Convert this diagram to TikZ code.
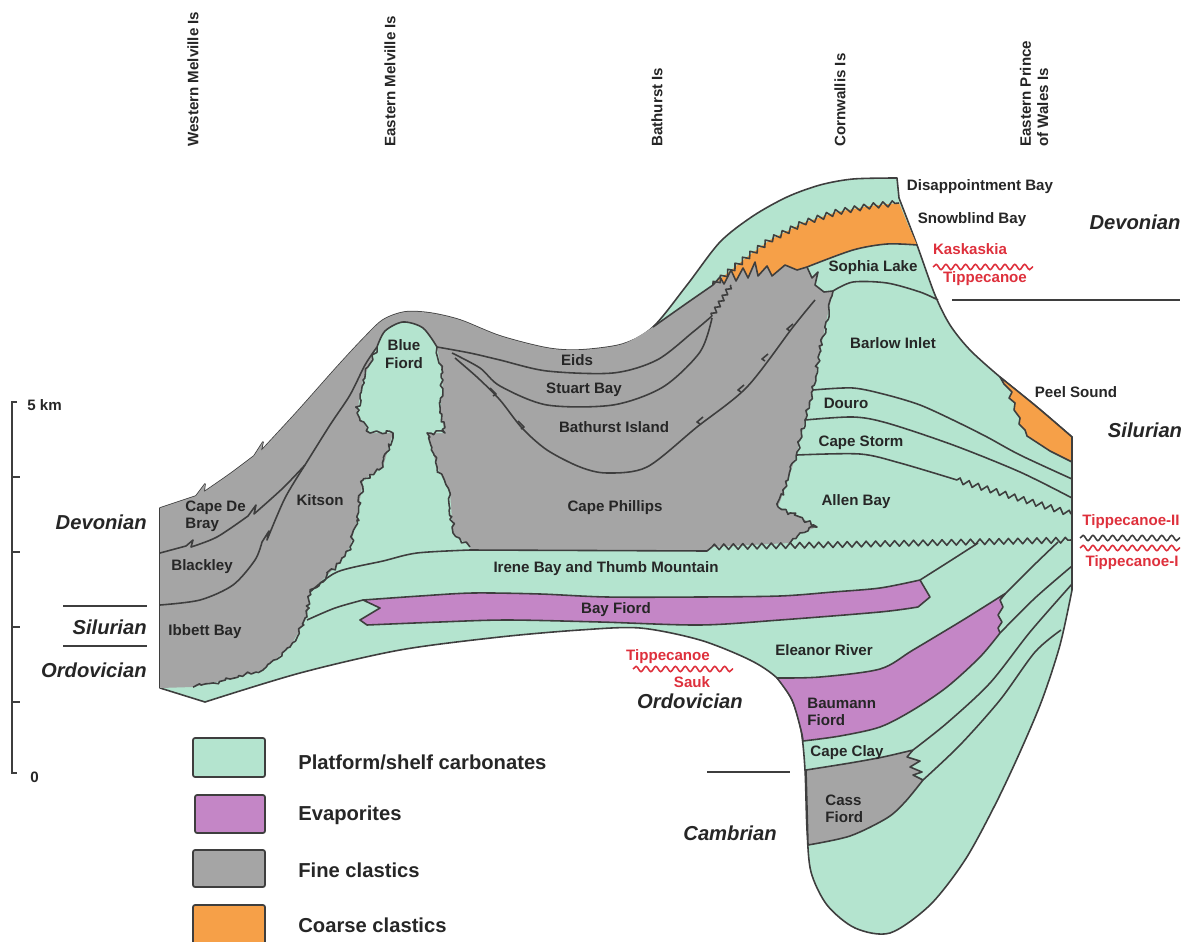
\documentclass[tikz,border=0pt]{standalone}
\usepackage{fontspec}
\setmainfont{Liberation Sans}
\usetikzlibrary{decorations.pathmorphing}
\definecolor{colShelf}{RGB}{180,228,207}
\definecolor{colEvap}{RGB}{196,134,198}
\definecolor{colFine}{RGB}{165,165,165}
\definecolor{colCoarse}{RGB}{246,160,72}
\definecolor{colEdge}{RGB}{62,62,62}
\definecolor{colSeq}{RGB}{222,48,60}
\definecolor{colInk}{RGB}{38,38,38}
\begin{document}
\begin{tikzpicture}[x=0.02cm,y=-0.02cm,
  contact/.style={draw=colEdge,line width=0.9pt,line join=round},
  serrate/.style={contact,decorate,decoration={random steps,segment length=2pt,amplitude=1.3pt}},
  unconf/.style={contact,decorate,decoration={zigzag,segment length=5.4pt,amplitude=1.6pt}},
  seqwave/.style={line width=0.9pt,decorate,decoration={snake,segment length=5.6pt,amplitude=1.5pt}},
  unitlabel/.style={font=\fontsize{8.6}{9.8}\selectfont\bfseries,text=colInk,inner sep=0pt},
  seqlabel/.style={font=\fontsize{8.6}{9.8}\selectfont\bfseries,text=colSeq,inner sep=0pt},
  eralabel/.style={font=\fontsize{11.5}{13}\selectfont\bfseries\itshape,text=colInk,inner sep=0pt},
  keytext/.style={font=\fontsize{11.5}{13}\selectfont\bfseries,text=colInk,inner sep=0pt,anchor=west},
  keybox/.style={draw=colEdge,line width=1pt,rounded corners=1.2pt},
  rule/.style={draw=colEdge,line width=0.9pt}
]
\pgfmathsetseed{11}
\useasboundingbox (0,0) rectangle (1192,942);

% ---------- whole section: carbonate platform body ----------
\filldraw[fill=colShelf,contact]
 (160,508) -- (196,496) -- (205,484) -- (204,492)
 -- plot[smooth] coordinates {(204,492) (230,474) (254,456)}
 -- (263,442) -- (261,451)
 -- plot[smooth] coordinates {(261,451) (297,412) (337,367) (363,339) (383,320) (405,312) (430,313) (460,320) (500,336) (547,348) (580,350) (623,344) (653,327) (687,285) (720,242) (753,216) (787,197) (820,185) (853,179) (897,178)}
 -- (899,198)
 -- plot[smooth] coordinates {(899,198) (917,245) (935,295) (950,325) (970,350) (1000,377) (1037,407) (1072,437)}
 -- (1072,590)
 -- plot[smooth] coordinates {(1072,590) (1060,645) (1042,700) (1020,752) (995,805) (965,860) (930,905) (890,933) (855,928) (827,905) (811,872) (807,830) (805,770) (801,730) (792,700) (777,678) (750,660) (700,640) (640,628) (580,630) (500,637) (400,650) (300,673) (205,702)}
 -- (160,688) -- cycle;

% ---------- fine clastic basin fill ----------
\fill[colFine]
 (160,688) -- (160,508) -- (196,496) -- (205,484) -- (204,492)
 -- plot[smooth] coordinates {(204,492) (230,474) (254,456)}
 -- (263,442) -- (261,451)
 -- plot[smooth] coordinates {(261,451) (297,412) (337,367) (363,339) (383,320) (405,312) (430,313) (460,320) (500,336) (547,348) (580,350) (623,344) (653,327)}
 -- plot[smooth] coordinates {(653,327) (687,303) (713,285)}
 -- (720,277) -- (724,284) -- (731,270) -- (736,281) -- (743,268) -- (748,278) -- (755,262) -- (758,276) -- (767,266) -- (772,276) -- (785,265) -- (797,270) -- (807,267)
 -- (812,278) -- (818,272) -- (815,285) -- (824,292) -- (833,291)
 -- (826,322) -- (820,352) -- (813,390) -- (805,420) -- (797,452) -- (788,480) -- (778,507)
 -- (790,513) -- (800,517) -- (817,527) -- (800,533) -- (790,543)
 -- (712,547) -- (707,551) -- (470,550)
 -- plot[smooth] coordinates {(470,550) (417,553) (383,561) (337,572) (310,592)}
 -- (307,617) -- (290,647) -- (263,670) -- (230,679) -- (193,687)
 -- cycle;

% Blue Fiord reef column
\fill[colShelf]
 plot[smooth] coordinates {(310,592) (337,572) (383,561) (417,553) (470,550)}
 -- (470,547) -- (453,533) -- (450,493) -- (437,467) -- (427,433) -- (445,433) -- (440,413) -- (443,380) -- (437,347)
 -- plot[smooth] coordinates {(437,347) (423,328) (403,322) (385,331) (377,347)}
 -- (363,380) -- (357,413) -- (370,433) -- (393,433) -- (383,467) -- (363,480) -- (357,520) -- (350,547) -- (340,563) -- cycle;

% ---------- coarse clastics ----------
\fill[colCoarse]
 (713,285) -- (747,257) -- (770,240) -- (803,223) -- (837,212) -- (870,206) -- (899,203)
 -- (908,225) -- (917,245)
 -- plot[smooth] coordinates {(917,245) (887,244) (853,250) (807,267)}
 -- (797,270) -- (785,265) -- (772,276) -- (767,266) -- (758,276) -- (755,262) -- (748,278) -- (743,268) -- (736,281) -- (731,270) -- (724,284) -- (720,277) -- cycle;
\draw[contact] (713,285) -- (720,277) -- (724,284) -- (731,270) -- (736,281) -- (743,268) -- (748,278) -- (755,262) -- (758,276) -- (767,266) -- (772,276) -- (785,265) -- (797,270) -- (807,267);
\draw[contact] plot[smooth] coordinates {(807,267) (853,250) (887,244) (917,245)};
\draw[unconf] (713,285) -- (747,257) -- (770,240) -- (803,223) -- (837,212) -- (870,206) -- (899,203);

\filldraw[fill=colCoarse,contact]
 plot[smooth] coordinates {(1000,377) (1037,407) (1072,437)}
 -- (1072,462) -- (1050,451) -- (1027,436) -- (1025,430) -- (1019,424) -- (1020,418) -- (1014,410) -- (1015,403) -- (1009,398) -- (1012,392) -- (1004,384) -- cycle;

% ---------- evaporites ----------
\filldraw[fill=colEvap,contact]
 (363,600) -- plot[smooth] coordinates {(363,600) (420,596) (473,593) (540,594) (607,597) (700,597) (780,596) (833,592) (880,588) (920,580)}
 -- (930,597) -- (918,607)
 -- plot[smooth] coordinates {(918,607) (880,612) (780,620) (700,625) (600,622) (507,620) (440,622) (367,625)}
 -- (360,620) -- (380,608) -- cycle;

\filldraw[fill=colEvap,contact]
 plot[smooth] coordinates {(777,678) (820,677) (880,669) (913,650) (963,620) (1006,593)}
 -- (1000,600) -- (1003,607) -- (998,615) -- (1002,622) -- (998,628) -- (1000,633)
 -- plot[smooth] coordinates {(1000,633) (980,657) (947,687) (913,710) (880,727) (840,736) (803,741)}
 -- plot[smooth] coordinates {(803,741) (801,730) (792,700) (777,678)} -- cycle;

% Cass Fiord
\filldraw[fill=colFine,contact]
 (806,770) -- plot[smooth] coordinates {(806,770) (850,763) (883,757) (913,750)}
 -- (907,757) -- (920,761) -- (910,767) -- (922,772) -- (913,775) -- (923,780)
 -- plot[smooth] coordinates {(923,780) (905,802) (887,818) (850,836) (808,845)} -- cycle;

% ---------- facies contacts ----------
\draw[contact] plot[smooth] coordinates {(653,327) (687,303) (713,285)};
\draw[contact] (807,267) -- (812,278) -- (818,272) -- (815,285) -- (824,292) -- (833,291);
\draw[serrate] (833,291) -- (826,322) -- (820,352) -- (813,390) -- (805,420) -- (797,452) -- (788,480) -- (778,507);
\draw[serrate] (778,507) -- (790,513) -- (800,517) -- (817,527) -- (800,533) -- (790,543);
\draw[contact] plot[smooth] coordinates {(310,592) (337,572) (383,561) (417,553) (470,550)} -- (707,551) -- (712,547);
\draw[serrate] (377,347) -- (363,380) -- (357,413) -- (370,433) -- (393,433) -- (383,467) -- (363,480) -- (357,520) -- (350,547) -- (340,563) -- (310,592) -- (307,617) -- (290,647) -- (263,670) -- (230,679) -- (193,687);
\draw[serrate] (437,347) -- (443,380) -- (440,413) -- (445,433) -- (427,433) -- (437,467) -- (450,493) -- (453,533) -- (470,547);
\draw[contact] plot[smooth] coordinates {(437,347) (423,328) (403,322) (385,331) (377,347)};

% western clastic units
\draw[contact] (160,553) -- (186,546) -- (193,540) -- (191,547) -- plot[smooth] coordinates {(191,547) (217,537) (248,516)} -- (256,505) -- (254,514) -- plot[smooth] coordinates {(254,514) (283,488) (305,465)};
\draw[contact] plot[smooth] coordinates {(160,605) (200,600) (233,585) (255,560) (262,542)} -- (269,531) -- (267,540) -- plot[smooth] coordinates {(267,540) (285,498) (305,465)};
\draw[contact] plot[smooth] coordinates {(305,465) (330,425) (350,395) (365,365) (377,347)};

% Bathurst Island basin units
\draw[contact] plot[smooth] coordinates {(437,347) (470,353) (500,360) (547,371) (613,373) (657,360) (693,332) (712,316)};
\draw[contact] plot[smooth] coordinates {(452,353) (480,368) (500,386) (547,405) (613,405) (663,387) (700,352) (712,318)};
\draw[contact,decorate,decoration={zigzag,segment length=4pt,amplitude=1.3pt}] (712,316) -- (731,285);
\draw[contact] plot[smooth] coordinates {(455,358) (478,378) (500,400) (522,428) (547,450) (580,467) (607,473) (647,467) (697,427) (747,387) (793,327) (815,300)};
\foreach \px/\py in {493/396, 521/429} \draw[contact] (\px,\py) -- ++(3,-2) -- ++(-6,-6);
\foreach \px/\py in {700/424, 741/392, 765/361, 790/331} \draw[contact] (\px,\py) -- ++(-3,-2) -- ++(6,-5);

% Cornwallis platform units
\draw[contact] plot[smooth] coordinates {(833,291) (853,282) (887,283) (920,292) (938,300)};
\draw[contact] plot[smooth] coordinates {(813,390) (853,388) (887,395) (920,405) (953,420) (987,437) (1020,455) (1072,479)};
\draw[contact] plot[smooth] coordinates {(805,420) (853,417) (887,423) (953,445) (1020,472) (1072,498)};
\draw[contact] plot[smooth] coordinates {(797,455) (860,454) (900,463) (957,480)};
\draw[unconf] (957,480) -- (1072,514);
\draw[unconf] (712,547) -- (1072,540);

% Ordovician and Cambrian units
\draw[contact] plot[smooth] coordinates {(307,620) (335,608) (363,600)};
\draw[contact] plot[smooth] coordinates {(920,580) (950,561) (978,543)};
\draw[contact] plot[smooth] coordinates {(1006,593) (1033,566) (1058,542)};
\draw[contact] plot[smooth] coordinates {(1000,633) (1035,598) (1072,566)};
\draw[contact] plot[smooth] coordinates {(913,750) (947,723) (990,683) (1030,632) (1072,584)};
\draw[contact] plot[smooth] coordinates {(923,780) (960,745) (1000,700) (1035,652) (1061,630)};

% ---------- unit names ----------
\node[unitlabel,align=left,anchor=west] (nCDB) at (185,516) {Cape De\\Bray};
\node[unitlabel] (nBlk) at (202,567) {Blackley};
\node[unitlabel] (nKit) at (320,500) {Kitson};
\node[unitlabel] (nIbb) at (205,632) {Ibbett Bay};
\node[unitlabel,align=center] (nBF) at (404,354) {Blue\\Fiord};
\node[unitlabel] (nEid) at (577,360) {Eids};
\node[unitlabel] (nStu) at (584,390) {Stuart Bay};
\node[unitlabel] (nBat) at (614,427) {Bathurst Island};
\node[unitlabel] (nCPh) at (615,508) {Cape Phillips};
\node[unitlabel] (nIre) at (606,569) {Irene Bay and Thumb Mountain};
\node[unitlabel] (nBay) at (616,610) {Bay Fiord};
\node[unitlabel] (nDis) at (980,187) {Disappointment Bay};
\node[unitlabel] (nSno) at (972,220) {Snowblind Bay};
\node[unitlabel] (nSop) at (873,268) {Sophia Lake};
\node[unitlabel] (nBar) at (893,343) {Barlow Inlet};
\node[unitlabel] (nDou) at (846,403) {Douro};
\node[unitlabel] (nCSt) at (861,443) {Cape Storm};
\node[unitlabel] (nAll) at (856,502) {Allen Bay};
\node[unitlabel] (nPee) at (1076,392) {Peel Sound};
\node[unitlabel] (nEle) at (824,650) {Eleanor River};
\node[unitlabel,align=left,anchor=west] (nBau) at (807,712) {Baumann\\Fiord};
\node[unitlabel] (nCCl) at (847,753) {Cape Clay};
\node[unitlabel,align=left,anchor=west] (nCas) at (825,809) {Cass\\Fiord};

% ---------- sequence boundaries ----------
\node[seqlabel] (sKas) at (970,249) {Kaskaskia};
\draw[colSeq,seqwave] (933,267) -- (1033,267);
\node[seqlabel] (sTip1) at (985,279) {Tippecanoe};
\node[seqlabel] (sTip2) at (668,657) {Tippecanoe};
\draw[colSeq,seqwave] (633,669) -- (733,669);
\node[seqlabel] (sSau) at (692,682) {Sauk};
\node[seqlabel] (sT2) at (1131,522) {Tippecanoe-II};
\draw[colEdge,seqwave] (1080,538) -- (1180,538);
\draw[colSeq,seqwave] (1080,548) -- (1180,548);
\node[seqlabel] (sT1) at (1132,563) {Tippecanoe-I};

% ---------- systems ----------
\node[eralabel] (eDevR) at (1135,222) {Devonian};
\draw[rule] (952,300) -- (1180,300);
\node[eralabel] (eSilR) at (1145,430) {Silurian};
\node[eralabel,anchor=east] (eDevL) at (147,522) {Devonian};
\draw[rule] (63,606) -- (147,606);
\node[eralabel,anchor=east] (eSilL) at (147,627) {Silurian};
\draw[rule] (63,646) -- (147,646);
\node[eralabel,anchor=east] (eOrdL) at (147,670) {Ordovician};
\node[eralabel] (eOrdM) at (690,701) {Ordovician};
\draw[rule] (707,772) -- (790,772);
\node[eralabel] (eCam) at (730,833) {Cambrian};

% ---------- locality headings ----------
\node[unitlabel,rotate=90,anchor=west] (hWM) at (193,147) {Western Melville Is};
\node[unitlabel,rotate=90,anchor=west] (hEM) at (390,147) {Eastern Melville Is};
\node[unitlabel,rotate=90,anchor=west] (hBa) at (657,147) {Bathurst Is};
\node[unitlabel,rotate=90,anchor=west] (hCo) at (840,147) {Cornwallis Is};
\node[unitlabel,rotate=90,anchor=west,align=left] (hPW) at (1034,147) {Eastern Prince\\of Wales Is};

% ---------- vertical scale ----------
\draw[rule] (17,402) -- (12,402) -- (12,773) -- (17,773);
\foreach \ty in {477,552,627,702} \draw[rule] (12,\ty) -- (20,\ty);
\node[unitlabel,anchor=west] (sc5) at (27,405) {5 km};
\node[unitlabel,anchor=west] (sc0) at (30,777) {0};

% ---------- legend ----------
\draw[keybox,fill=colShelf] (193,738) rectangle (265,777);
\draw[keybox,fill=colEvap] (195,795) rectangle (265,833);
\draw[keybox,fill=colFine] (193,850) rectangle (265,887);
\draw[keybox,fill=colCoarse] (193,905) rectangle (265,948);
\node[keytext] (kPl) at (298,762) {Platform/shelf carbonates};
\node[keytext] (kEv) at (298,815) {Evaporites};
\node[keytext] (kFi) at (298,870) {Fine clastics};
\node[keytext] (kCo) at (298,925) {Coarse clastics};
\end{tikzpicture}
\end{document}
